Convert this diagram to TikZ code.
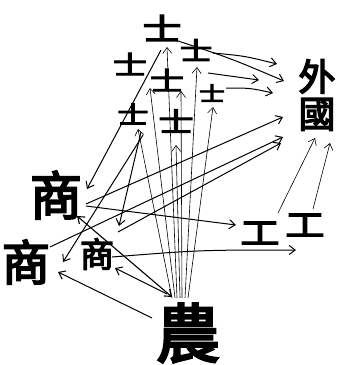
\documentclass[tikz,border=0pt]{standalone}
\usepackage{fontspec}
\newfontfamily\cjk[FakeBold=4]{Noto Sans CJK TC}
\usetikzlibrary{arrows.meta}
\newcommand{\wideshi}{\scalebox{1.3}[1]{士}}
\tikzset{
  ch/.style={inner sep=0pt, font=\cjk},
  ln/.style={line width=1pt, -{Straight Barb[length=6pt,width=9pt]}},
  thin ln/.style={line width=0.6pt, -{Straight Barb[length=6pt,width=9pt]}},
  both ln/.style={line width=1.1pt, {Straight Barb[length=6pt,width=9pt]}-{Straight Barb[length=6pt,width=9pt]}},
}
\begin{document}
\begin{tikzpicture}[x=1pt,y=-1pt]
\useasboundingbox (0,0) rectangle (339,365);
% nodes
\node[ch, font=\cjk\fontsize{30}{30}\selectfont] (s1) at (162,28) {\wideshi};
\node[ch, font=\cjk\fontsize{25}{25}\selectfont] (s2) at (196,50) {\wideshi};
\node[ch, font=\cjk\fontsize{26}{26}\selectfont] (s3) at (130,64) {\wideshi};
\node[ch, font=\cjk\fontsize{26}{26}\selectfont] (s4) at (167,80) {\wideshi};
\node[ch, font=\cjk\fontsize{20}{20}\selectfont] (s5) at (212,93) {\wideshi};
\node[ch, font=\cjk\fontsize{24}{24}\selectfont] (s6) at (133,114) {\wideshi};
\node[ch, font=\cjk\fontsize{27}{27}\selectfont] (s7) at (176,121) {\wideshi};
\node[ch, font=\cjk\fontsize{37}{37}\selectfont, align=center] (guo) at (317,95) {外\\國};
\node[ch, font=\cjk\fontsize{34}{34}\selectfont] (g1) at (260,233) {\scalebox{1.15}[0.9]{工}};
\node[ch, font=\cjk\fontsize{34}{34}\selectfont] (g2) at (305,225) {\scalebox{1.15}[0.9]{工}};
\node[ch, font=\cjk\fontsize{64}{64}\selectfont] (nong) at (188,333) {農};
\node[ch, font=\cjk\fontsize{52}{52}\selectfont] (m1) at (56,195) {商};
\node[ch, font=\cjk\fontsize{48}{48}\selectfont] (m2) at (26,262) {商};
\node[ch, font=\cjk\fontsize{34}{34}\selectfont] (m3) at (97,254) {商};
% arrow tips near the 士 nodes
\coordinate (t1) at (167,47);
\coordinate (t2) at (150,88);
\coordinate (t3) at (181,91);
\coordinate (t4) at (197,67);
\coordinate (t5) at (213,107);
\coordinate (t6) at (138,129);
\coordinate (t7) at (176,145);
% foot points on 農
\coordinate (f6) at (172,298);
\coordinate (f2) at (175,298);
\coordinate (f1) at (177,298);
\coordinate (f7) at (180,298);
\coordinate (f3) at (182,298);
\coordinate (f4) at (185,298);
\coordinate (f5) at (188,298);
% 農 -> 士
\draw[thin ln] (f1) -- (t1);
\draw[thin ln] (f2) -- (t2);
\draw[thin ln] (f3) -- (t3);
\draw[thin ln] (f4) -- (t4);
\draw[thin ln] (f5) -- (t5);
\draw[thin ln] (f6) -- (t6);
\draw[thin ln] (f7) -- (t7);
% 士 -> 外國
\coordinate (a1s) at (172,39);  \coordinate (a1e) at (284,81);
\coordinate (a2s) at (213,53);  \coordinate (a2e) at (277,64);
\coordinate (a3s) at (208,73);  \coordinate (a3e) at (259,80);
\coordinate (a4s) at (226,88);  \coordinate (a4e) at (273,93);
\draw[ln] (a1s) .. controls (230,58) .. (a1e);
\draw[ln] (a2s) .. controls (245,56) .. (a2e);
\draw[ln] (a3s) -- (a3e);
\draw[ln] (a4s) .. controls (250,88) .. (a4e);
% 商 -> 國
\coordinate (b1s) at (86,204);  \coordinate (b1e) at (283,117);
\coordinate (b2s) at (50,247);  \coordinate (b2e) at (283,137);
\coordinate (b3s) at (118,232); \coordinate (b3e) at (281,143);
\draw[ln] (b1s) -- (b1e);
\draw[ln] (b2s) -- (b2e);
\draw[ln] (b3s) -- (b3e);
% 商 -> 工
\coordinate (c1s) at (86,206);  \coordinate (c1e) at (236,225);
\coordinate (c2s) at (112,257); \coordinate (c2e) at (296,250);
\draw[ln] (c1s) .. controls (160,216) .. (c1e);
\draw[ln] (c2s) .. controls (200,250) .. (c2e);
% 工 -> 國
\coordinate (d1s) at (278,213); \coordinate (d1e) at (315,138);
\coordinate (d2s) at (313,209); \coordinate (d2e) at (330,143);
\draw[thin ln] (d1s) -- (d1e);
\draw[thin ln] (d2s) -- (d2e);
% 士 -> 商
\coordinate (e1s) at (161,50);  \coordinate (e1e) at (87,189);
\coordinate (e2s) at (141,132); \coordinate (e2e) at (119,226);
\coordinate (e3s) at (143,135); \coordinate (e3e) at (63,262);
\draw[ln] (e1s) -- (e1e);
\draw[ln] (e2s) -- (e2e);
\draw[ln] (e3s) -- (e3e);
% 商 <-> 農, 農 -> 商
\coordinate (h1s) at (77,216);  \coordinate (h1e) at (172,297);
\coordinate (h2s) at (167,294); \coordinate (h2e) at (115,268);
\coordinate (h3s) at (152,318); \coordinate (h3e) at (58,272);
\draw[both ln] (h1s) -- (h1e);
\draw[ln] (h2s) -- (h2e);
\draw[ln] (h3s) -- (h3e);
\end{tikzpicture}
\end{document}
